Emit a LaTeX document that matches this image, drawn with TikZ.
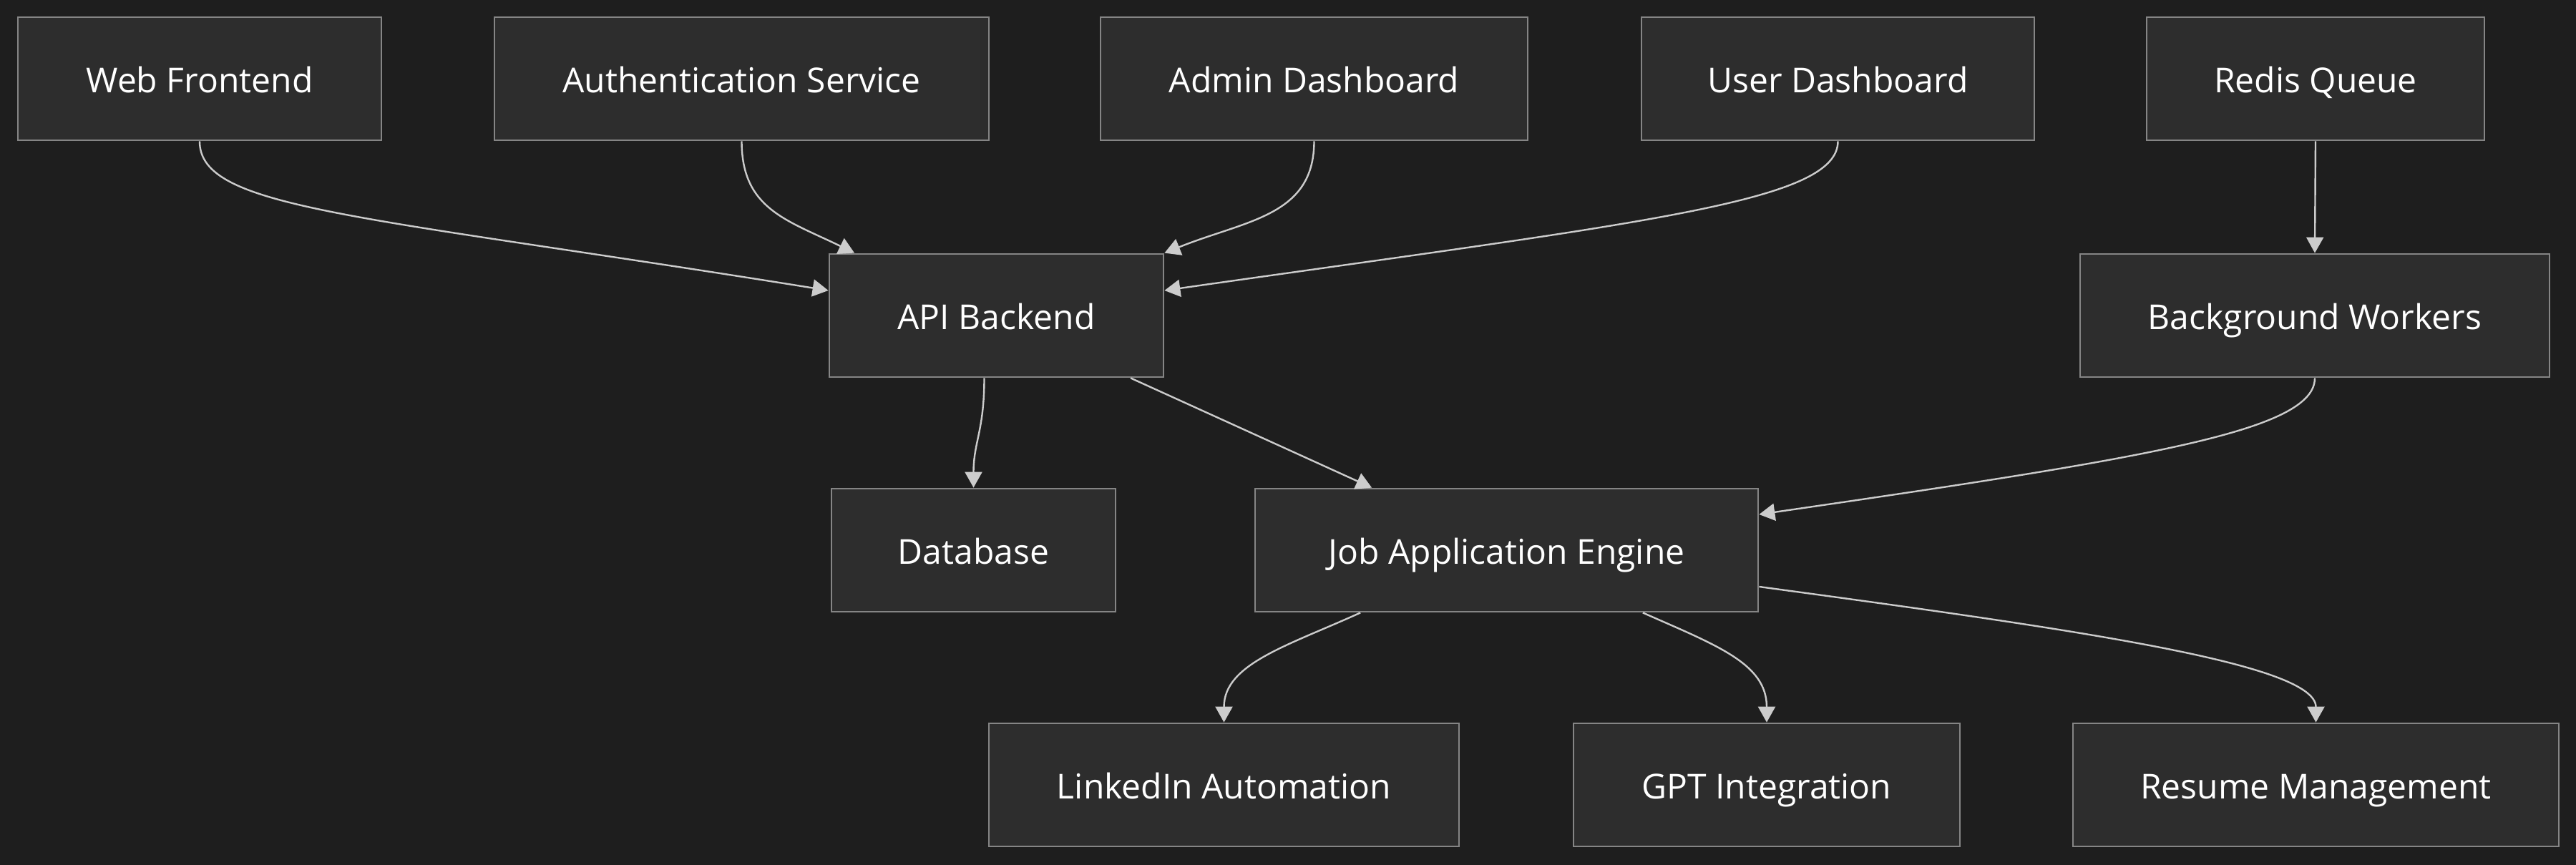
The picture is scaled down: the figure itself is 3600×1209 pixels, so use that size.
\documentclass[tikz,border=0pt]{standalone}
\usepackage{fontspec}
\setmainfont{Open Sans}
\usetikzlibrary{arrows.meta}
\definecolor{bgcol}{HTML}{1E1E1E}
\definecolor{boxfill}{HTML}{2D2D2D}
\definecolor{boxline}{HTML}{858585}
\definecolor{linkcol}{HTML}{CCCCCC}

\begin{document}
\begin{tikzpicture}[x=0.25pt, y=-0.25pt, >={Triangle[length=5.5pt,width=6pt]}]
                \tikzstyle{box}=[rectangle, draw=boxline, fill=boxfill, line width=0.7pt, text=white, minimum height=43pt, inner sep=0pt, text height=9.8pt, text depth=0pt, font=\fontsize{12}{14}\selectfont]
                \tikzstyle{link}=[->, draw=linkcol, line width=0.6pt]

                % Draw the background
                \fill[bgcol] (0,0) rectangle (3600,1209);

                % Draw the top row of nodes
                \foreach \name / \x / \w / \txt in {web/279/508/Web Frontend, auth/1036.5/691/Authentication Service, admin/1836.5/597/Admin Dashboard, user/2568.5/549/User Dashboard, redis/3236/472/Redis Queue}
                    \node[box, minimum width=\w*0.25pt] (\name) at (\x,110) {\txt};

                % Draw the second row
                \foreach \name / \x / \w / \txt in {api/1392.5/467/API Backend, bw/3235/656/Background Workers}
                    \node[box, minimum width=\w*0.25pt] (\name) at (\x,441) {\txt};

                % Draw the third row
                \foreach \name / \x / \w / \txt in {db/1360.5/397/Database, jae/2105.5/703/Job Application Engine}
                    \node[box, minimum width=\w*0.25pt] (\name) at (\x,769) {\txt};

                % Draw the bottom row
                \foreach \name / \x / \w / \txt in {li/1710.5/657/LinkedIn Automation, gpt/2469/540/GPT Integration, resume/3236.5/679/Resume Management}
                    \node[box, minimum width=\w*0.25pt] (\name) at (\x,1097) {\txt};

                % Connect the top row with the API backend
                \draw[link] (web.south) .. controls +(0,95) and +(-659,-106) .. ([yshift=8.75pt]api.west);
                \draw[link] (auth.south) .. controls +(0,95) and +(-94,-46) .. ([xshift=-49.6pt]api.north);
                \draw[link] (admin.south) .. controls +(0,105) and +(114,-46) .. (api.north east);
                \draw[link] (user.south) .. controls +(0,85) and +(674,-96) .. ([yshift=8.75pt]api.east);
                \draw[link] (redis.south) -- (bw.north);

                % Connect the backend and the workers further down
                \draw[link] ([xshift=-4.25pt]api.south) .. controls +(0,74) and +(0,-64) .. (db.north);
                \draw[link] ([xshift=46.9pt]api.south) -- ([xshift=-47.1pt]jae.north);
                \draw[link] (bw.south) .. controls +(0,74) and +(543,-79) .. ([yshift=12.5pt]jae.east);

                % Connect the engine with the bottom row
                \draw[link] ([xshift=-51.1pt]jae.south) .. controls +(-101,46) and +(0,-82) .. (li.north);
                \draw[link] ([xshift=47.6pt]jae.south) .. controls +(104,46) and +(0,-82) .. (gpt.north);
                \draw[link] ([yshift=-12.75pt]jae.east) .. controls +(443,60) and +(0,-82) .. (resume.north);
            \end{tikzpicture}
\end{document}
